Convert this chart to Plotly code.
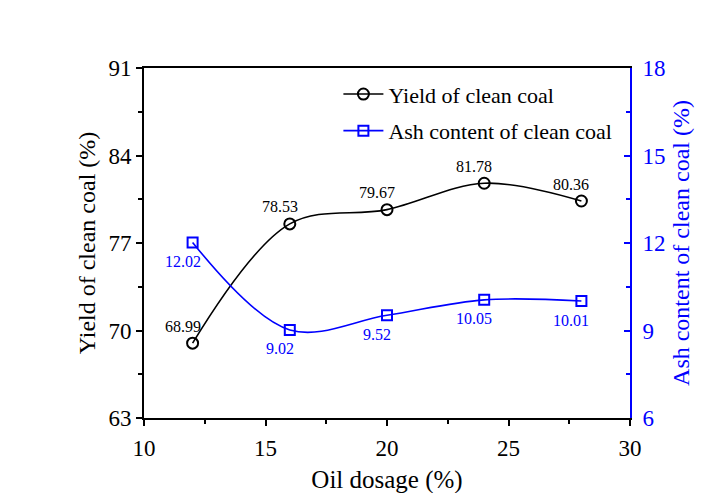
import plotly.graph_objects as go

oil_dosage = [12, 16, 20, 24, 28]
yield_clean = [68.99, 78.53, 79.67, 81.78, 80.36]
ash_clean = [12.02, 9.02, 9.52, 10.05, 10.01]
x_ticks = [10, 15, 20, 25, 30]
yield_ticks = [63, 70, 77, 84, 91]
ash_ticks = [6, 9, 12, 15, 18]

FONT = "Liberation Serif"
BLUE = "#0000FF"

fig = go.Figure()
fig.add_trace(go.Scatter(
    x=oil_dosage, y=yield_clean, name="Yield of clean coal",
    mode="lines+markers", line=dict(color="black", width=1.6, shape="spline"),
    marker=dict(symbol="circle-open", size=11, color="black", line=dict(width=2)),
    legendgroup="a", yaxis="y"))
fig.add_trace(go.Scatter(
    x=oil_dosage, y=ash_clean, name="Ash content of clean coal",
    mode="lines+markers", line=dict(color=BLUE, width=1.6, shape="spline"),
    marker=dict(symbol="square-open", size=10, color=BLUE, line=dict(width=2)),
    legendgroup="b", yaxis="y2"))

annotations = []
for xv, yv in zip(oil_dosage, yield_clean):
    annotations.append(dict(x=xv, y=yv, xref="x", yref="y", text=f"{yv:.2f}",
                            showarrow=False, xshift=-10, yshift=17,
                            font=dict(family=FONT, size=16, color="black")))
for xv, yv in zip(oil_dosage, ash_clean):
    annotations.append(dict(x=xv, y=yv, xref="x", yref="y2", text=f"{yv:.2f}",
                            showarrow=False, xshift=-10, yshift=-19,
                            font=dict(family=FONT, size=16, color=BLUE)))

fig.update_layout(
    width=707, height=493,
    margin=dict(l=136, r=85, t=60, b=75),
    paper_bgcolor="white", plot_bgcolor="white",
    font=dict(family=FONT, size=23, color="black"),
    showlegend=True,
    legend=dict(x=0.40, y=0.985, xanchor="left", yanchor="top",
                bgcolor="rgba(0,0,0,0)", font=dict(family=FONT, size=22),
                traceorder="grouped", tracegroupgap=5, itemwidth=40),
    annotations=annotations,
    xaxis=dict(range=[10, 30], tickvals=x_ticks, showline=True, linecolor="black",
               linewidth=1.6, mirror=True, ticks="outside", ticklen=6, tickwidth=1.5,
               tickcolor="black", showgrid=False, zeroline=False,
               minor=dict(ticks="outside", ticklen=4, dtick=2.5, tickcolor="black", tickwidth=1.5),
               title=dict(text="Oil dosage (%)", font=dict(size=25), standoff=10),
               tickfont=dict(size=23), ticklabelstandoff=3),
    yaxis=dict(range=[63, 91], tickvals=yield_ticks, showline=True, linecolor="black",
               linewidth=1.6, ticks="outside", ticklen=6, tickwidth=1.5, tickcolor="black",
               showgrid=False, zeroline=False,
               minor=dict(ticks="outside", ticklen=4, dtick=3.5, tickcolor="black", tickwidth=1.5),
               title=dict(text="Yield of clean coal (%)", font=dict(size=24), standoff=6),
               tickfont=dict(size=23)),
    yaxis2=dict(range=[6, 18], tickvals=ash_ticks, overlaying="y", side="right",
                showline=True, linecolor=BLUE, linewidth=1.6, ticks="inside", ticklen=6,
                tickwidth=1.5, tickcolor=BLUE, showgrid=False, zeroline=False,
                minor=dict(ticks="inside", ticklen=4, dtick=1.5, tickcolor=BLUE, tickwidth=1.5),
                title=dict(text="Ash content of clean coal (%)", font=dict(size=24, color=BLUE), standoff=8),
                tickfont=dict(size=23, color=BLUE), ticklabelstandoff=6),
)

fig.write_html("out.html")
